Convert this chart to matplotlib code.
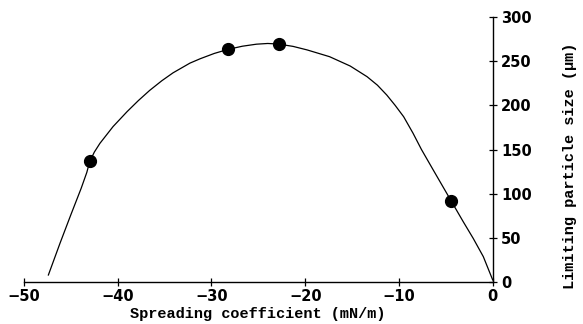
import matplotlib
matplotlib.use("Agg")
import matplotlib.pyplot as plt

# Measured data points
spread_pts = [-43.0, -28.2, -22.8, -4.45]
size_pts = [137, 264, 270, 92]

# Fitted curve
curve_x = [-47.4, -46.16, -45.0, -43.9, -43.3, -43.0, -42.5, -41.9, -40.5, -39.0,
           -37.8, -36.6, -35.3, -34.1, -32.3, -31.2, -29.7, -28.2, -26.7, -25.2,
           -24.0, -22.9, -21.3, -19.8, -17.4, -15.2, -13.4, -12.3, -11.3, -10.4,
           -9.5, -8.5, -7.6, -6.34, -4.45, -3.14, -2.07, -1.0, 0.0]
curve_y = [7.6, 43.6, 76, 106, 124, 136, 147, 157, 176, 193,
           205.5, 217, 228, 237, 248, 253, 259, 263.7, 267.2, 269.5,
           270.3, 269.7, 267, 263, 255.3, 244.7, 232.6, 223, 211.8, 200,
           187.2, 168.5, 150, 126.7, 92, 68, 49, 28.4, 2]

x_ticks = [-50, -40, -30, -20, -10, 0]
y_ticks = [0, 50, 100, 150, 200, 250, 300]

fig = plt.figure(figsize=(5.83, 3.24), dpi=100)
ax = fig.add_axes([24/583, 1-281.7/324, (492.7-24)/583, (281.7-17.3)/324])

ax.plot(curve_x, curve_y, color="black", lw=0.9, solid_joinstyle="round")
ax.plot(spread_pts, size_pts, "o", color="black", ms=8.5)

ax.set_xlim(-50, 0)
ax.set_ylim(0, 300)
for s in ["top", "left"]:
    ax.spines[s].set_visible(False)
ax.spines["bottom"].set_linewidth(1.0)
ax.spines["right"].set_linewidth(1.0)
ax.yaxis.tick_right()
ax.yaxis.set_label_position("right")
ax.set_xticks(x_ticks)
ax.set_yticks(y_ticks)
ax.set_xticklabels(["\u2212" + str(abs(v)) if v < 0 else str(v) for v in x_ticks])
ax.tick_params(direction="inout", length=6, width=0.9, labelsize=10.5)
ax.tick_params(axis="x", pad=2.5)
ax.tick_params(axis="y", pad=3)
for lab in ax.get_xticklabels() + ax.get_yticklabels():
    lab.set_fontweight("bold")
    lab.set_family("DejaVu Sans")

fig.text(258/583, 1-314/324, "Spreading coefficient (mN/m)",
         family="Liberation Mono", fontsize=11, fontweight="bold",
         ha="center", va="center")
fig.text(570/583, 1-166/324, "Limiting particle size (\u03bcm)",
         family="Liberation Mono", fontsize=11, fontweight="bold",
         ha="center", va="center", rotation=90)

fig.savefig("out.png", dpi=100)
